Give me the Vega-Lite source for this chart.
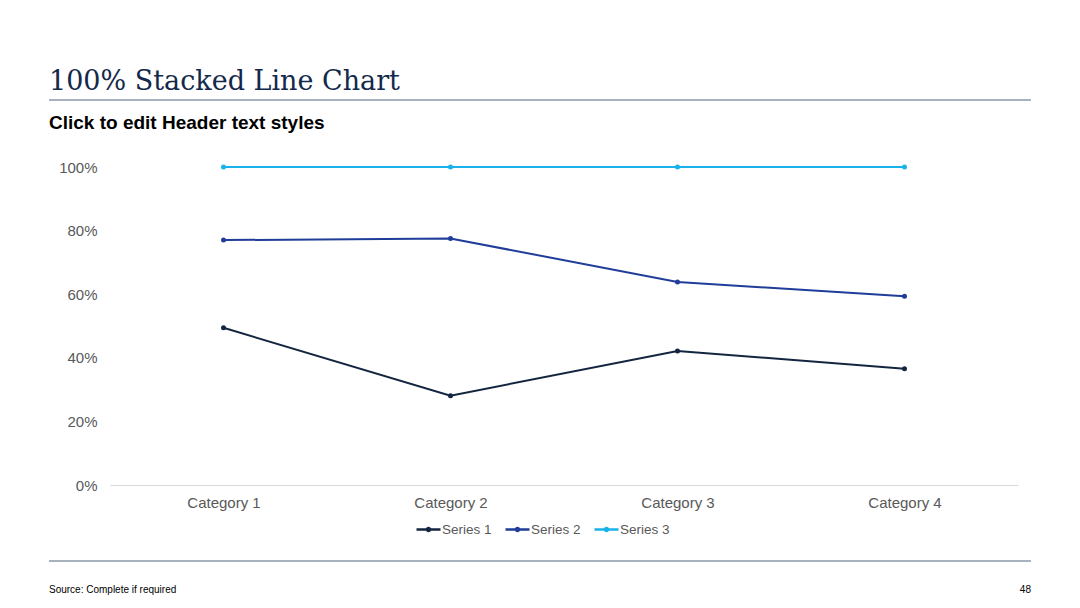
{
  "$schema": "https://vega.github.io/schema/vega-lite/v6.json",
  "width": 908,
  "height": 318,
  "autosize": "none",
  "padding": {"left": 110, "top": 167, "right": 62, "bottom": 123},
  "background": "white",
  "title": {
    "text": "100% Stacked Line Chart",
    "subtitle": "Click to edit Header text styles",
    "anchor": "start",
    "frame": "group",
    "dx": -61,
    "offset": -35,
    "font": "DejaVu Serif",
    "fontSize": 27,
    "fontWeight": "normal",
    "color": "#13294b",
    "subtitleFont": "Liberation Sans",
    "subtitleFontSize": 19,
    "subtitleFontWeight": "bold",
    "subtitleColor": "#000000",
    "subtitlePadding": 18
  },
  "datasets": {
    "chart": [
      {"category": "Category 1", "series": "Series 1", "value": 4.3},
      {"category": "Category 1", "series": "Series 2", "value": 2.4},
      {"category": "Category 1", "series": "Series 3", "value": 2.0},
      {"category": "Category 2", "series": "Series 1", "value": 2.5},
      {"category": "Category 2", "series": "Series 2", "value": 4.4},
      {"category": "Category 2", "series": "Series 3", "value": 2.0},
      {"category": "Category 3", "series": "Series 1", "value": 3.5},
      {"category": "Category 3", "series": "Series 2", "value": 1.8},
      {"category": "Category 3", "series": "Series 3", "value": 3.0},
      {"category": "Category 4", "series": "Series 1", "value": 4.5},
      {"category": "Category 4", "series": "Series 2", "value": 2.8},
      {"category": "Category 4", "series": "Series 3", "value": 5.0}
    ],
    "rules": [
      {"from": -0.0672, "to": 1.0143, "level": 1.2107},
      {"from": -0.0672, "to": 1.0143, "level": -0.239}
    ],
    "footer": [
      {"label": "Source: Complete if required", "pos": -0.0672, "level": -0.3302, "side": "left"},
      {"label": "48", "pos": 1.0143, "level": -0.3302, "side": "right"}
    ]
  },
  "layer": [
    {
      "data": {"name": "chart"},
      "transform": [
        {
          "stack": "value",
          "groupby": ["category"],
          "sort": [{"field": "series", "order": "ascending"}],
          "offset": "normalize",
          "as": ["share0", "share1"]
        }
      ],
      "mark": {"type": "line", "strokeWidth": 2, "point": {"filled": true, "size": 25}},
      "encoding": {
        "x": {
          "field": "category",
          "type": "nominal",
          "scale": {"type": "point", "padding": 0.5},
          "axis": {
            "title": null,
            "labelAngle": 0,
            "labelFont": "Liberation Sans",
            "labelFontSize": 15,
            "labelColor": "#595959",
            "labelPadding": 10,
            "ticks": false,
            "grid": false,
            "domainColor": "#d9d9d9",
            "domainWidth": 1
          }
        },
        "y": {
          "field": "share1",
          "type": "quantitative",
          "scale": {"domain": [0, 1], "nice": false},
          "axis": {
            "title": null,
            "format": ".0%",
            "values": [0, 0.2, 0.4, 0.6, 0.8, 1],
            "labelFont": "Liberation Sans",
            "labelFontSize": 15,
            "labelColor": "#595959",
            "labelPadding": 13,
            "ticks": false,
            "domain": false,
            "grid": false
          }
        },
        "color": {
          "field": "series",
          "type": "nominal",
          "scale": {
            "domain": ["Series 1", "Series 2", "Series 3"],
            "range": ["#14253f", "#1f3d99", "#1ab2ea"]
          },
          "legend": {
            "title": null,
            "orient": "none",
            "direction": "horizontal",
            "legendX": 305,
            "legendY": 349,
            "labelFont": "Liberation Sans",
            "labelFontSize": 13.5,
            "labelColor": "#595959",
            "labelOffset": 0,
            "columnPadding": 8,
            "symbolType": "M-1,0H1M-0.12,0A0.12,0.12 0 1,0 0.12,0A0.12,0.12 0 1,0 -0.12,0",
            "symbolSize": 576,
            "symbolStrokeWidth": 2.5
          }
        }
      }
    },
    {
      "layer": [
        {
          "data": {"name": "rules"},
          "mark": {"type": "rule", "color": "#8a99a8", "strokeWidth": 1.5},
          "encoding": {
            "x": {"field": "from", "type": "quantitative", "scale": {"domain": [0, 1], "nice": false, "zero": false}, "axis": null},
            "x2": {"field": "to"},
            "y": {"field": "level", "type": "quantitative", "scale": {"domain": [0, 1], "nice": false}, "axis": null}
          }
        },
        {
          "data": {"name": "footer"},
          "transform": [{"filter": "datum.side == 'left'"}],
          "mark": {"type": "text", "align": "left", "baseline": "middle", "font": "Liberation Sans Narrow, Liberation Sans", "fontSize": 10, "color": "#000000"},
          "encoding": {
            "x": {"field": "pos", "type": "quantitative", "axis": null},
            "y": {"field": "level", "type": "quantitative", "axis": null},
            "text": {"field": "label"}
          }
        },
        {
          "data": {"name": "footer"},
          "transform": [{"filter": "datum.side == 'right'"}],
          "mark": {"type": "text", "align": "right", "baseline": "middle", "font": "Liberation Sans Narrow, Liberation Sans", "fontSize": 10, "color": "#000000"},
          "encoding": {
            "x": {"field": "pos", "type": "quantitative", "axis": null},
            "y": {"field": "level", "type": "quantitative", "axis": null},
            "text": {"field": "label"}
          }
        }
      ]
    }
  ],
  "resolve": {"scale": {"x": "independent", "y": "independent"}},
  "config": {"view": {"stroke": null}}
}
